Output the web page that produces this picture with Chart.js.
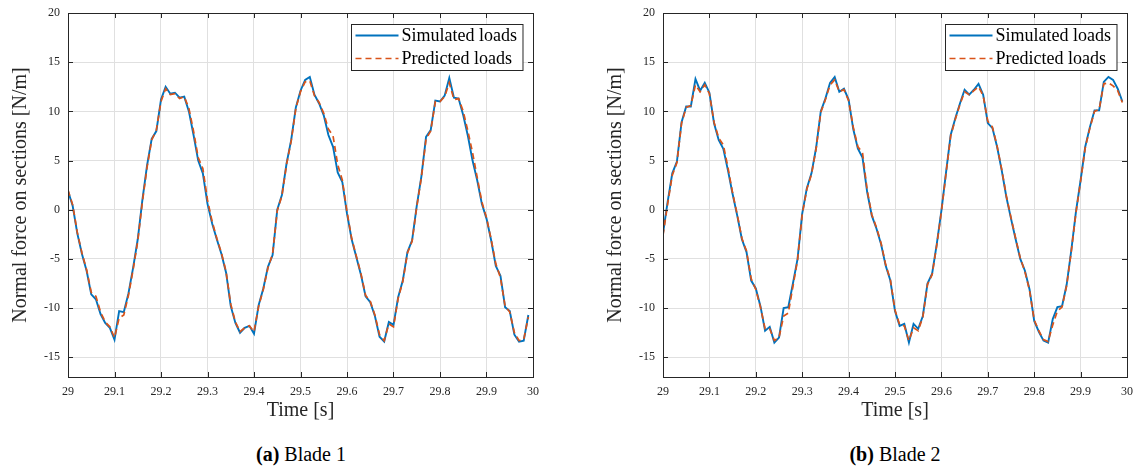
<!DOCTYPE html>
<html>
<head>
<meta charset="utf-8">
<script src="https://cdn.jsdelivr.net/npm/chart.js@4.4.1/dist/chart.umd.min.js"></script>
<style>
  body { margin: 0; background: #fff; width: 1137px; height: 472px; position: relative; overflow: hidden; }
  .panel { position: absolute; top: 0; }
  .caption { position: absolute; top: 443px; font: 20px "Liberation Serif", serif; color: #000; text-align: center; width: 300px; }
  .caption b { font-weight: bold; }
</style>
</head>
<body>
<div class="panel" style="left:0"><canvas id="blade1" width="545" height="425"></canvas></div>
<div class="panel" style="left:595px"><canvas id="blade2" width="542" height="425"></canvas></div>
<div class="caption" style="left:151px"><b>(a)</b> Blade 1</div>
<div class="caption" style="left:745px"><b>(b)</b> Blade 2</div>
<script>
// ---- data (one sample every 0.01 s, 29.00 .. 29.99) ----
const tStart = 29;
const tStep = 0.01;

const blade1Sim = [1.9, 0.4, -2.4, -4.5, -6.2, -8.6, -9.1, -10.6, -11.5, -12.0,
  -13.2, -10.3, -10.4, -8.5, -5.9, -3.0, 1.0, 4.5, 7.2, 8.0,
  11.2, 12.5, 11.8, 11.9, 11.4, 11.5, 10.0, 7.6, 5.0, 3.7,
  0.6, -1.4, -3.0, -4.5, -6.4, -9.8, -11.5, -12.5, -12.0, -11.8,
  -12.6, -9.7, -8.0, -5.8, -4.6, 0.0, 1.5, 4.7, 7.1, 10.4,
  12.1, 13.2, 13.5, 11.7, 10.8, 9.6, 7.6, 6.4, 3.8, 2.8,
  -0.4, -3.0, -4.8, -6.6, -8.8, -9.4, -10.8, -12.9, -13.4, -11.4,
  -11.7, -8.9, -7.2, -4.3, -3.1, 0.4, 3.4, 7.4, 8.1, 11.1,
  11.0, 11.6, 13.4, 11.4, 11.3, 9.6, 7.5, 5.0, 3.0, 0.6,
  -0.9, -3.1, -5.7, -6.7, -9.9, -10.3, -12.7, -13.4, -13.3, -10.7];

const blade1Pred = [2.0, 0.5, -2.3, -4.4, -6.1, -8.4, -8.8, -10.4, -11.4, -11.9,
  -13.0, -11.0, -10.7, -8.7, -6.1, -3.2, 0.8, 4.3, 7.1, 8.1,
  11.0, 12.3, 11.7, 11.8, 11.3, 11.5, 10.3, 8.0, 5.3, 4.2,
  1.0, -1.2, -2.9, -4.4, -6.3, -9.6, -11.4, -12.4, -12.0, -11.8,
  -12.4, -9.8, -8.1, -5.9, -4.5, -0.1, 1.4, 4.6, 7.0, 10.3,
  12.0, 13.0, 13.1, 11.6, 10.9, 9.8, 8.2, 7.5, 4.6, 3.0,
  -0.2, -2.9, -4.7, -6.5, -8.7, -9.3, -10.7, -12.7, -13.3, -11.6,
  -11.9, -9.0, -7.3, -4.4, -3.2, 0.3, 3.3, 7.2, 8.0, 11.0,
  11.0, 11.5, 12.9, 11.2, 11.3, 10.0, 8.0, 5.8, 3.3, 0.8,
  -0.8, -3.0, -5.5, -6.9, -9.8, -10.4, -12.5, -13.3, -13.2, -10.9];

const blade2Sim = [-2.4, 0.8, 3.7, 4.9, 8.9, 10.5, 10.5, 13.3, 12.1, 12.9,
  11.9, 8.8, 7.1, 6.2, 4.0, 1.6, -0.6, -3.0, -4.3, -7.2,
  -8.0, -9.8, -12.3, -11.9, -13.5, -13.0, -10.0, -9.9, -7.5, -5.0,
  -0.4, 2.2, 3.7, 6.3, 10.0, 11.3, 12.9, 13.5, 12.0, 12.3,
  11.2, 8.2, 6.2, 5.3, 1.8, -0.6, -1.9, -3.5, -5.7, -7.2,
  -10.3, -11.8, -11.6, -13.5, -11.6, -12.1, -10.8, -7.5, -6.5, -3.5,
  -0.1, 3.8, 7.6, 9.3, 10.8, 12.2, 11.7, 12.2, 12.8, 11.7,
  8.8, 8.3, 6.4, 4.0, 1.3, -0.9, -3.0, -5.0, -6.2, -8.1,
  -11.3, -12.4, -13.3, -13.5, -11.1, -9.9, -9.8, -7.6, -4.1, -0.2,
  3.0, 6.4, 8.4, 10.1, 10.1, 13.0, 13.5, 13.2, 12.3, 11.0];

const blade2Pred = [-2.6, 0.6, 3.5, 4.8, 8.8, 10.4, 10.6, 12.7, 12.0, 12.7,
  11.8, 8.9, 7.3, 6.6, 4.3, 1.7, -0.5, -2.9, -4.2, -7.0,
  -8.1, -9.9, -12.1, -12.1, -13.3, -13.0, -10.8, -10.5, -7.8, -5.1,
  -0.5, 2.1, 3.6, 6.2, 9.9, 11.2, 12.7, 13.2, 12.0, 12.2,
  11.1, 8.4, 6.4, 5.8, 2.0, -0.5, -1.8, -3.4, -5.6, -7.1,
  -10.2, -11.7, -11.8, -13.3, -12.0, -12.3, -10.9, -7.6, -6.6, -3.6,
  -0.2, 3.7, 7.5, 9.2, 10.7, 12.0, 11.7, 12.1, 12.5, 11.6,
  9.0, 8.4, 6.5, 4.1, 1.4, -0.8, -2.9, -4.9, -6.3, -8.2,
  -11.2, -12.3, -13.2, -13.4, -11.7, -10.3, -9.9, -7.7, -4.2, -0.3,
  2.9, 6.3, 8.3, 10.0, 10.2, 12.8, 12.9, 12.6, 12.1, 10.9];

const yTicks = [-15, -10, -5, 0, 5, 10, 15, 20];
const seriesNames = ["Simulated loads", "Predicted loads"];

const times = blade1Sim.map((_, i) => +(tStart + i * tStep).toFixed(2));

// ---- style ----
const BLUE = "#0072BD";
const ORANGE = "#D95319";
const AXIS = "#262626";
const SERIF = "'Liberation Serif', 'Times New Roman', serif";

// no automatic label overflow padding, layout.padding alone places the plot box
function noOverflow(s) {
  s.paddingLeft = s.paddingRight = s.paddingTop = s.paddingBottom = 0;
}

// box, inward tick marks and legend drawn MATLAB style
const matlabFrame = {
  id: "matlabFrame",
  afterDatasetsDraw(chart) {
    const { ctx, chartArea: a, scales } = chart;
    ctx.save();
    ctx.strokeStyle = AXIS;
    ctx.lineWidth = 1;
    ctx.beginPath();
    scales.x.ticks.forEach(t => {
      const px = Math.round(scales.x.getPixelForValue(t.value)) + 0.5;
      ctx.moveTo(px, a.bottom); ctx.lineTo(px, a.bottom - 5);
      ctx.moveTo(px, a.top); ctx.lineTo(px, a.top + 5);
    });
    scales.y.ticks.forEach(t => {
      const py = Math.round(scales.y.getPixelForValue(t.value)) + 0.5;
      ctx.moveTo(a.left, py); ctx.lineTo(a.left + 5, py);
      ctx.moveTo(a.right, py); ctx.lineTo(a.right - 5, py);
    });
    ctx.stroke();
    ctx.strokeRect(Math.round(a.left) + 0.5, Math.round(a.top) + 0.5,
      Math.round(a.right - a.left), Math.round(a.bottom - a.top));
    ctx.restore();
  },
  afterDraw(chart) {
    const { ctx, chartArea: a } = chart;
    const ds = chart.data.datasets;
    ctx.save();
    ctx.font = "18px " + SERIF;
    const textW = Math.max(...seriesNames.map(s => ctx.measureText(s).width));
    const lineLen = 43;
    const w = 4 + lineLen + 3 + textW + 6;
    const h = 46;
    const x0 = Math.round(a.right - 11 - w) + 0.5;
    const y0 = Math.round(a.top + 11) + 0.5;
    ctx.fillStyle = "#fff";
    ctx.fillRect(x0, y0, w, h);
    ctx.strokeStyle = AXIS;
    ctx.lineWidth = 1;
    ctx.strokeRect(x0, y0, w, h);
    [0, 1].forEach(i => {
      const cy = y0 + 11 + i * 23;
      const d = ds[i];
      ctx.strokeStyle = d.borderColor;
      ctx.lineWidth = d.borderWidth;
      ctx.setLineDash(d.borderDash || []);
      ctx.beginPath();
      ctx.moveTo(x0 + 4, cy); ctx.lineTo(x0 + 4 + lineLen, cy);
      ctx.stroke();
      ctx.setLineDash([]);
      ctx.fillStyle = "#000";
      ctx.textBaseline = "middle";
      ctx.fillText(d.label, x0 + 4 + lineLen + 3, cy + 1);
    });
    ctx.restore();
  }
};

function makeChart(id, sim, pred, rightPad) {
  return new Chart(document.getElementById(id), {
    type: "line",
    data: {
      datasets: [{
        label: seriesNames[0],
        data: times.map((t, i) => ({ x: t, y: sim[i] })),
        borderColor: BLUE,
        borderWidth: 1.9,
        order: 1
      }, {
        label: seriesNames[1],
        data: times.map((t, i) => ({ x: t, y: pred[i] })),
        borderColor: ORANGE,
        borderWidth: 1.7,
        borderDash: [6, 4],
        order: 0
      }]
    },
    options: {
      responsive: false,
      devicePixelRatio: 1,
      animation: false,
      elements: { point: { radius: 0 }, line: { tension: 0 } },
      layout: { padding: { top: 13, right: rightPad, left: 0, bottom: 0 } },
      plugins: { legend: { display: false }, tooltip: { enabled: false } },
      scales: {
        x: {
          type: "linear",
          min: 29, max: 30,
          afterFit: s => { s.height = 48; noOverflow(s); },
          grid: { color: "#e0e0e0", drawTicks: false },
          border: { display: false },
          ticks: {
            stepSize: 0.1, autoSkip: false, maxRotation: 0, padding: 8,
            color: AXIS, font: { family: SERIF, size: 12 },
            callback: v => String(+v.toFixed(1))
          },
          title: {
            display: true, text: "Time [s]", color: AXIS,
            font: { family: SERIF, size: 20 }, padding: { top: 0, bottom: 2 }
          }
        },
        y: {
          min: -17, max: 20,
          afterFit: s => { s.width = 68; noOverflow(s); },
          afterBuildTicks: s => { s.ticks = yTicks.map(v => ({ value: v })); },
          grid: { color: "#e0e0e0", drawTicks: false },
          border: { display: false },
          ticks: { padding: 8, color: AXIS, font: { family: SERIF, size: 12 } },
          title: {
            display: true, text: "Normal force on sections [N/m]", color: AXIS,
            font: { family: SERIF, size: 20 }, padding: { top: 9, bottom: 0 }
          }
        }
      }
    },
    plugins: [matlabFrame]
  });
}

makeChart("blade1", blade1Sim, blade1Pred, 12);
makeChart("blade2", blade2Sim, blade2Pred, 10);
</script>
</body>
</html>
